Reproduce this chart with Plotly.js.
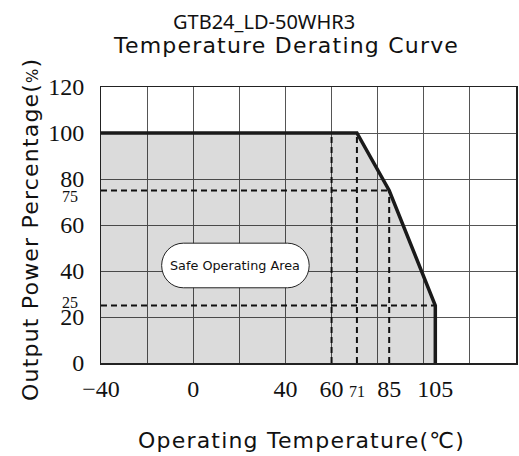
<!DOCTYPE html>
<html>
<head>
<meta charset="utf-8">
<script src="https://cdn.plot.ly/plotly-3.0.1.min.js"></script>
<style>html,body{margin:0;padding:0;background:#fff;}#chart{width:519px;height:456px;}</style>
</head>
<body>
<div id="chart"></div>
<script>
// Derating curve points
const curveTemp = [-40, 71, 85, 105, 105];
const curvePower = [100, 100, 75, 25, 0];
// Dashed guide lines
const vGuideTemp = [60, 71, 85];
const vGuideTop = [100, 100, 75];
const hGuidePower = [75, 25];
const hGuideEnd = [85, 105];
// Ticks
const xTickVals = [-40, 0, 40, 60, 71, 85, 105];
const xTickText = ['−40', '0', '40', '60', '<span style="font-size:16px">71</span>', '85', '105'];
const yTickVals = [0, 20, 40, 60, 80, 100, 120];
const yTickText = ['0', '20', '40', '60', '80', '100', '120'];
const ySmallTickVals = [25, 75];
const ySmallTickText = ['25', '75'];
const ySmallShift = [3, -6];
const xRange = [-40, 140];
const yRange = [0, 120];
const gridStep = 20;
// Texts
const areaLabel = 'Safe Operating Area';
const labelCenter = [18.3, 42.4];
const modelTitle = 'GTB24_LD-50WHR3';
const chartTitle = 'Temperature Derating Curve';
const xTitle = 'Operating Temperature(℃)';
const yTitle = 'Output Power Percentage(<span style="font-size:15px">%</span>)';

const traces = [];
traces.push({
  x: [curveTemp[0]].concat(curveTemp),
  y: [0].concat(curvePower),
  mode: 'lines', fill: 'toself', fillcolor: 'rgba(0,0,0,0.14)',
  line: {width: 0}, hoverinfo: 'skip', showlegend: false
});
for (let i = 0; i < vGuideTemp.length; i++) {
  traces.push({x: [vGuideTemp[i], vGuideTemp[i]], y: [0, vGuideTop[i]], mode: 'lines',
    line: {color: '#111', width: 2, dash: '6px,4px'}, showlegend: false, hoverinfo: 'skip'});
}
for (let i = 0; i < hGuidePower.length; i++) {
  traces.push({x: [xRange[0], hGuideEnd[i]], y: [hGuidePower[i], hGuidePower[i]], mode: 'lines',
    line: {color: '#111', width: 2, dash: '6px,4px'}, showlegend: false, hoverinfo: 'skip'});
}
traces.push({x: curveTemp, y: curvePower, mode: 'lines',
  line: {color: '#1a1a1a', width: 3.5}, showlegend: false, hoverinfo: 'skip'});
traces.push({x: xRange, y: yRange, xaxis: 'x2', yaxis: 'y2', mode: 'markers',
  marker: {opacity: 0}, showlegend: false, hoverinfo: 'skip'});

// stadium-shaped label box (data coords)
const hw = 32, hh = 9.7, r = 9.4, k = 0.5523;
const cx = labelCenter[0], cy = labelCenter[1];
const L = cx - hw, R = cx + hw, B = cy - hh, T = cy + hh;
const path = `M ${L + r},${B} L ${R - r},${B} C ${R - r + r * k},${B} ${R},${cy - hh * k} ${R},${cy} ` +
  `C ${R},${cy + hh * k} ${R - r + r * k},${T} ${R - r},${T} L ${L + r},${T} ` +
  `C ${L + r - r * k},${T} ${L},${cy + hh * k} ${L},${cy} C ${L},${cy - hh * k} ${L + r - r * k},${B} ${L + r},${B} Z`;

const serif = 'Liberation Serif, Times New Roman, serif';
const M = {l: 101, r: 3, t: 87, b: 93};
const pw = 519 - M.l - M.r, ph = 456 - M.t - M.b;
const px = v => (v - M.l) / pw;
const py = v => 1 - (v - M.t) / ph;
const wide = (s, ls) => `<span style="letter-spacing:${ls}px">${s}</span>`;

const annotations = [
  {text: areaLabel, x: cx, y: cy, xref: 'x', yref: 'y', showarrow: false,
    font: {family: 'DejaVu Sans', size: 12.8, color: '#111'}},
  {text: modelTitle, x: px(264), y: py(21), xref: 'paper', yref: 'paper', showarrow: false,
    xanchor: 'center', yanchor: 'middle', font: {family: 'Noto Sans', size: 20, color: '#111'}},
  {text: wide(chartTitle, 1.2), x: px(286), y: py(45), xref: 'paper', yref: 'paper', showarrow: false,
    xanchor: 'center', yanchor: 'middle', font: {family: 'DejaVu Sans', size: 22, color: '#111'}},
  {text: wide(xTitle, 1.2), x: px(301), y: py(440), xref: 'paper', yref: 'paper', showarrow: false,
    xanchor: 'center', yanchor: 'middle', font: {family: 'DejaVu Sans', size: 22, color: '#111'}},
  {text: wide(yTitle, 1.2), x: px(30), y: py(230), xref: 'paper', yref: 'paper', showarrow: false,
    textangle: -90, xanchor: 'center', yanchor: 'middle', font: {family: 'DejaVu Sans', size: 22, color: '#111'}}
];
for (let i = 0; i < ySmallTickVals.length; i++) {
  annotations.push({text: ySmallTickText[i], x: 0, y: ySmallTickVals[i], xref: 'paper', yref: 'y',
    xanchor: 'right', yanchor: 'middle', xshift: -21, yshift: ySmallShift[i], showarrow: false,
    font: {family: serif, size: 16, color: '#111'}});
}

const layout = {
  width: 519, height: 456,
  margin: M,
  paper_bgcolor: '#fff', plot_bgcolor: '#fff',
  showlegend: false,
  xaxis: {range: xRange, tick0: -40, dtick: gridStep, showticklabels: false, ticks: '',
    showgrid: true, gridcolor: '#555', gridwidth: 1, zeroline: false,
    showline: true, mirror: true, linecolor: '#222', linewidth: 1.5},
  yaxis: {range: yRange, tick0: 0, dtick: gridStep, showticklabels: false, ticks: '',
    showgrid: true, gridcolor: '#555', gridwidth: 1, zeroline: false,
    showline: true, mirror: true, linecolor: '#222', linewidth: 1.5},
  xaxis2: {range: xRange, overlaying: 'x', anchor: 'y2', side: 'bottom', tickmode: 'array',
    tickvals: xTickVals, ticktext: xTickText, showgrid: false, zeroline: false,
    ticks: 'outside', ticklen: 4, tickcolor: 'rgba(0,0,0,0)', tickfont: {family: serif, size: 24, color: '#111'}, showline: false},
  yaxis2: {range: yRange, overlaying: 'y', anchor: 'x2', side: 'left', tickmode: 'array',
    tickvals: yTickVals, ticktext: yTickText, showgrid: false, zeroline: false,
    ticks: 'outside', ticklen: 11, tickcolor: 'rgba(0,0,0,0)', tickfont: {family: serif, size: 24, color: '#111'}, showline: false},
  shapes: [{type: 'path', xref: 'x', yref: 'y', path: path, fillcolor: '#fff',
    line: {color: '#222', width: 1}, layer: 'above'}],
  annotations: annotations
};

Plotly.newPlot('chart', traces, layout, {displayModeBar: false, staticPlot: true});
</script>
</body>
</html>
